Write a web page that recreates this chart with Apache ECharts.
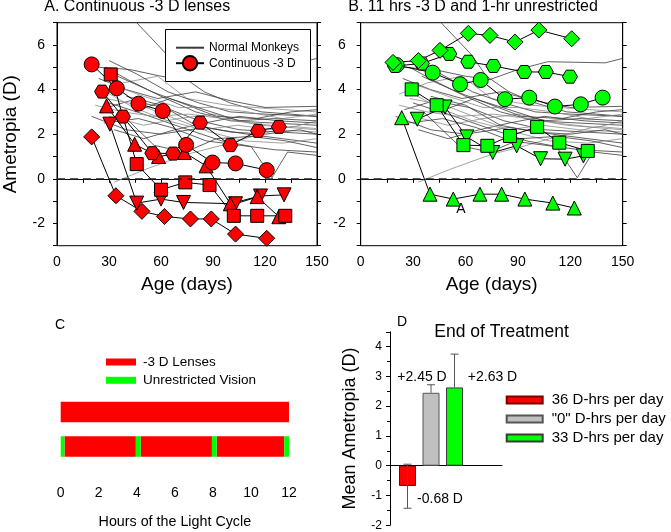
<!DOCTYPE html>
<html><head><meta charset="utf-8">
<script src="https://cdn.jsdelivr.net/npm/echarts@6/dist/echarts.min.js"></script>
<style>html,body{margin:0;padding:0;background:#fff}#c{width:671px;height:532px}</style>
</head><body><div id="c"></div>
<script>
// ---------- DATA ----------
// Normal monkeys: [age (days), ametropia (D)]
const nm01 = [[38,8.0],[46,7.0],[63,5.6],[72,4.6],[85,3.9],[100,3.4],[118,3.0],[135,2.9],[150,2.8]];
const nm02 = [[33,-0.15],[52,0.45],[75,1.1],[95,1.5],[115,1.95],[135,2.35],[150,2.25]];
const nm03 = [[30,3.4],[50,2.9],[72,2.3],[95,1.7],[112,1.45],[124,0.05],[133,1.2],[150,1.05]];
const nm04 = [[24,5.0],[42,4.9],[60,4.6],[74,4.45],[90,4.9],[107,5.25],[140,5.2],[150,5.4]];
const nm05 = [[22,3.8],[38,4.3],[58,4.6],[75,3.6],[98,3.3],[122,3.15],[150,3.0]];
const nm06 = [[28,5.0],[42,4.4],[60,3.7],[80,3.0],[100,2.6],[125,2.5],[150,2.4]];
const nm07 = [[25,3.1],[42,3.5],[62,3.2],[82,2.6],[105,2.2],[128,2.1],[150,2.0]];
const nm08 = [[30,2.8],[50,2.4],[70,2.7],[90,2.9],[112,2.5],[135,2.3],[150,2.6]];
const nm09 = [[20,2.8],[40,2.2],[60,2.0],[85,2.3],[110,2.0],[130,1.8],[150,1.6]];
const nm10 = [[35,4.6],[55,3.9],[72,3.4],[92,2.8],[115,2.7],[135,3.0],[150,3.1]];
const nm11 = [[28,3.6],[48,3.3],[68,2.7],[88,2.1],[108,1.7],[130,1.6],[150,1.8]];
const nm12 = [[24,4.5],[40,4.0],[58,3.6],[80,3.9],[100,3.5],[120,3.2],[150,3.25]];
const nm13 = [[33,2.2],[50,1.8],[68,2.2],[85,2.5],[105,2.8],[128,2.6],[150,2.5]];
const nm14 = [[26,4.0],[44,3.2],[64,2.6],[84,2.2],[104,2.4],[125,2.2],[150,2.1]];
const nm15 = [[30,5.3],[46,4.7],[64,3.9],[82,3.4],[100,3.0],[120,2.9],[150,2.8]];
const nm16 = [[36,3.0],[56,1.5],[74,1.2],[92,1.8],[112,1.9],[132,1.7],[150,1.4]];
const nm17 = [[22,3.3],[38,3.0],[56,2.8],[76,2.9],[96,2.7],[118,2.4],[150,2.2]];
const nm18 = [[40,3.7],[60,3.3],[80,2.4],[100,2.1],[120,2.0],[140,2.2],[150,2.0]];
const nm19 = [[27,2.5],[47,2.7],[66,2.3],[86,1.7],[106,1.5],[126,1.3],[150,1.2]];
const nm20 = [[32,4.2],[50,3.7],[70,3.2],[90,3.2],[110,3.0],[130,2.7],[150,2.9]];
const nm21 = [[45,3.0],[65,3.6],[85,3.1],[105,2.6],[125,2.7],[150,2.6]];
const normalMonkeys = [nm01,nm02,nm03,nm04,nm05,nm06,nm07,nm08,nm09,nm10,nm11,nm12,nm13,nm14,nm15,nm16,nm17,nm18,nm19,nm20,nm21];

// Panel A: continuous -3 D lenses
const contCircle   = [[20,5.13],[34.5,4.06],[47,3.37],[61,3.04],[74.5,1.52],[89.7,0.73],[103,0.69],[121,0.39]];
const contSquare   = [[31,4.68],[46,0.66],[60,-0.49],[74,-0.16],[88,-0.28],[102,-1.66],[115.5,-1.66],[131.7,-1.66]];
const contHexagon  = [[26,3.91],[38,2.79],[55,1.15],[67,1.13],[82.6,2.52],[100,1.51],[116,2.15],[128,2.33]];
const contTriUp    = [[28.6,3.27],[44.8,1.55],[58.6,1.0],[73.5,1.18],[86,0.58],[100,-1.12],[115.5,-0.8],[128,-1.7]];
const contTriDown  = [[30.5,2.45],[46,-1.09],[60,-0.91],[73,-1.06],[103,-1.12],[117.4,-0.77],[131,-0.72]];
const contDiamond  = [[20,1.88],[34,-0.76],[49,-1.46],[62,-1.69],[77,-1.8],[89,-1.8],[103,-2.48],[121,-2.67]];

// Panel B: 11 hrs -3 D and 1 hr unrestricted
const intDiamond = [[18.5,5.22],[33,5.3],[45.4,5.76],[61.6,6.52],[74,6.43],[88.3,6.13],[102,6.67],[120.8,6.28]];
const intHexagon = [[19.6,5.06],[35,5.17],[50.7,5.6],[61.6,5.25],[76,5.06],[93.7,4.79],[106,4.79],[119.8,4.58]];
const intCircle  = [[20.6,5.1],[41.2,4.76],[56.9,4.24],[68.7,4.43],[82.6,3.57],[96.5,3.64],[111.2,3.24],[126,3.34],[138.5,3.64]];
const intSquare  = [[29.2,4.01],[43.5,3.3],[58.8,1.51],[72.5,1.48],[85.5,1.92],[101,2.33],[113.7,1.62],[130,1.25]];
const intTriUp   = [[23.5,2.74],[39.7,-0.69],[53,-0.91],[68.3,-0.69],[80.7,-0.69],[94,-0.91],[110,-1.09],[122.3,-1.31]];
const intTriDown = [[32.4,2.67],[48.3,3.22],[60.7,1.88],[75.6,1.18],[89.3,1.48],[103,0.9],[117,0.88],[127.5,1.03]];

// Panel C: light cycle schedule [startHour, endHour, rowIndex]
const scheduleRows = ['Continuous -3 D', '11 hrs -3 D + 1 hr unrestricted'];
const lensPeriods = [[0,12,0],[0.2,3.95,1],[4.2,7.95,1],[8.2,11.75,1]];
const openPeriods = [[0,0.2,1],[3.95,4.2,1],[7.95,8.2,1],[11.75,12,1]];

// Panel D: end of treatment
const treatmentGroups = ['36 D-hrs per day', '"0" D-hrs per day', '33 D-hrs per day'];
const meanAmetropia = [-0.68, 2.45, 2.63];
const errLow  = [-1.43, 2.45, 2.63];
const errHigh = [0.05, 2.72, 3.75];

// ---------- CHART ----------
const FONT = '"Liberation Sans", Arial, sans-serif';
const RED = '#ff0000', GREEN = '#00ff00';
const HEX = 'path://M0,43.3 L25,0 L75,0 L100,43.3 L75,86.6 L25,86.6 Z';

const chart = echarts.init(document.getElementById('c'), null, {renderer: 'canvas'});

const ageGridTop = 22.7, ageGridH = 223;
const grids = [
  {left: 55, top: ageGridTop, width: 262, height: ageGridH, show: true, borderColor: '#000', borderWidth: 1},
  {left: 360.7, top: ageGridTop, width: 262, height: ageGridH, show: true, borderColor: '#000', borderWidth: 1},
  {left: 60.7, top: 394.75, width: 228.3, height: 69},
  {left: 390, top: 331.8, width: 112, height: 193.4}
];

function ageXAxis(gi, name) {
  return {type: 'value', gridIndex: gi, min: 0, max: 150, interval: 15,
    axisLine: {lineStyle: {color: '#000', width: 1}},
    axisTick: {length: 4, lineStyle: {color: '#000'}},
    axisLabel: {fontSize: 14, color: '#000', margin: 9, formatter: v => (v % 30 === 0 ? String(v) : '')},
    splitLine: {show: false},
    name: name, nameLocation: 'middle', nameGap: 30, nameTextStyle: {fontSize: 19, color: '#000'}};
}
function ametYAxis(gi, name, margin) {
  return {type: 'value', gridIndex: gi, min: -3, max: 7, interval: 1,
    axisLine: {show: true, lineStyle: {color: '#000'}},
    axisTick: {length: 4, lineStyle: {color: '#000'}},
    axisLabel: {fontSize: 14, color: '#000', margin: margin, formatter: v => (v % 2 === 0 ? String(v) : '')},
    splitLine: {show: false},
    name: name, nameLocation: 'middle', nameGap: 37, nameTextStyle: {fontSize: 19, color: '#000'}};
}
function rightYAxis(gi) {
  return {type: 'value', gridIndex: gi, position: 'right', min: -3, max: 7, interval: 1,
    axisLine: {show: true, lineStyle: {color: '#000'}},
    axisTick: {length: 4, lineStyle: {color: '#000'}},
    axisLabel: {show: false}, splitLine: {show: false}};
}

const xAxes = [
  ageXAxis(0, 'Age (days)'),
  ageXAxis(1, 'Age (days)'),
  {type: 'value', gridIndex: 2, min: 0, max: 12, interval: 2, offset: 13.5,
    axisLine: {lineStyle: {color: '#999', width: 1.5}},
    axisTick: {inside: true, length: 4, lineStyle: {color: '#999'}},
    axisLabel: {fontSize: 14, color: '#000', margin: 9},
    splitLine: {show: false},
    name: 'Hours of the Light Cycle', nameLocation: 'middle', nameGap: 38, nameTextStyle: {fontSize: 14.3, color: '#000'}},
  {type: 'value', gridIndex: 3, min: 0.255, max: 5.02,
    axisLine: {onZero: true, lineStyle: {color: '#000'}},
    axisTick: {show: false}, axisLabel: {show: false}, splitLine: {show: false}}
];
const yAxes = [
  ametYAxis(0, 'Ametropia (D)', 12),
  rightYAxis(0),
  ametYAxis(1, '', 15),
  rightYAxis(1),
  {type: 'category', gridIndex: 2, data: scheduleRows, inverse: true, show: false},
  {type: 'value', gridIndex: 3, min: -2, max: 4.5, interval: 1,
    axisLine: {show: true, lineStyle: {color: '#000'}},
    axisTick: {length: 4, lineStyle: {color: '#000'}},
    minorTick: {show: true, splitNumber: 2, length: 3, lineStyle: {color: '#000'}},
    axisLabel: {fontSize: 12, color: '#000', margin: 8, showMaxLabel: false},
    splitLine: {show: false},
    name: 'Mean Ametropia (D)', nameLocation: 'middle', nameGap: 31, nameTextStyle: {fontSize: 18, color: '#000'}}
];

const series = [];
const zeroLine = {silent: true, symbol: 'none', label: {show: false}, animation: false,
  lineStyle: {color: '#222', type: [8, 5], width: 1.5}, data: [{yAxis: 0}]};

function addNormals(gi) {
  normalMonkeys.forEach((d, i) => {
    const s = {type: 'line', name: 'Normal Monkeys', xAxisIndex: gi, yAxisIndex: gi * 2, data: d,
      symbol: 'none', silent: true, z: 1,
      lineStyle: {color: (i % 3 === 1) ? '#8a8a8a' : '#3a3a3a', width: 0.8},
      itemStyle: {color: 'rgba(0,0,0,0)', borderWidth: 0}};
    if (i === 0) s.markLine = zeroLine;
    series.push(s);
  });
}
function addMarks(gi, name, data, symbol, size, fill, rotate) {
  series.push({type: 'line', name: name, xAxisIndex: gi, yAxisIndex: gi * 2, data: data,
    symbol: symbol, symbolSize: size, symbolRotate: rotate || 0, symbolKeepAspect: true,
    showAllSymbol: true, z: 3,
    lineStyle: {color: '#000', width: 1},
    itemStyle: {color: fill, borderColor: '#000', borderWidth: 1, opacity: 1}});
}
addNormals(0);
addNormals(1);
addMarks(0, 'A diamond', contDiamond, 'diamond', 16, RED);
addMarks(0, 'A down', contTriDown, 'triangle', 14, RED, 180);
addMarks(0, 'A up', contTriUp, 'triangle', 14, RED);
addMarks(0, 'A square', contSquare, 'rect', 13, RED);
addMarks(0, 'A hexagon', contHexagon, HEX, 15, RED);
addMarks(0, 'Continuous -3 D', contCircle, 'circle', 15, RED);
addMarks(1, 'B up', intTriUp, 'triangle', 14, GREEN);
addMarks(1, 'B down', intTriDown, 'triangle', 14, GREEN, 180);
addMarks(1, 'B square', intSquare, 'rect', 13, GREEN);
addMarks(1, 'B circle', intCircle, 'circle', 15, GREEN);
addMarks(1, 'B hexagon', intHexagon, HEX, 15, GREEN);
addMarks(1, 'B diamond', intDiamond, 'diamond', 16, GREEN);

// Panel C
function periodRender(params, api) {
  const s = api.coord([api.value(0), api.value(2)]);
  const e = api.coord([api.value(1), api.value(2)]);
  const h = api.size([0, 1])[1] * 0.595;
  return {type: 'rect', shape: {x: s[0], y: s[1] - h / 2, width: e[0] - s[0], height: h},
    style: {fill: api.visual('color')}};
}
series.push({type: 'custom', name: '-3 D Lenses', xAxisIndex: 2, yAxisIndex: 4, data: lensPeriods,
  encode: {x: [0, 1], y: 2}, renderItem: periodRender, itemStyle: {color: RED}, silent: true});
series.push({type: 'custom', name: 'Unrestricted Vision', xAxisIndex: 2, yAxisIndex: 4, data: openPeriods,
  encode: {x: [0, 1], y: 2}, renderItem: periodRender, itemStyle: {color: GREEN}, silent: true});

// Panel D
const barFills = ['#ff0000', '#c0c0c0', '#00ff00'];
const barBorders = ['#7a0000', '#555', '#3a3a3a'];
const labelPos = [
  {position: 'bottom', offset: [32.5, 1]},
  {position: 'top', offset: [-9, -4]},
  {position: 'top', offset: [38, 1.5]}
];
treatmentGroups.forEach((g, i) => {
  series.push({type: 'bar', name: g, xAxisIndex: 3, yAxisIndex: 5, barWidth: 17, barGap: '-100%',
    data: [[i + 1, meanAmetropia[i]]], z: 2,
    itemStyle: {color: barFills[i], borderColor: barBorders[i], borderWidth: 1},
    label: Object.assign({show: true, fontSize: 14, color: '#000',
      formatter: p => (p.value[1] > 0 ? '+' : '') + p.value[1].toFixed(2) + ' D'}, labelPos[i])});
});
series.push({type: 'custom', name: 'SE', xAxisIndex: 3, yAxisIndex: 5, z: 4, silent: true,
  data: treatmentGroups.map((g, i) => [i + 1, errLow[i], errHigh[i], meanAmetropia[i]]),
  encode: {x: 0, y: [1, 2]},
  renderItem: (params, api) => {
    const lo = api.coord([api.value(0), api.value(1)]);
    const hi = api.coord([api.value(0), api.value(2)]);
    const mean = api.value(3);
    const st = {stroke: '#555', lineWidth: 1};
    const kids = [{type: 'line', shape: {x1: lo[0], y1: lo[1], x2: hi[0], y2: hi[1]}, style: st},
      {type: 'line', shape: {x1: hi[0] - 4, y1: hi[1], x2: hi[0] + 4, y2: hi[1]}, style: st}];
    if (api.value(1) < mean) kids.push({type: 'line', shape: {x1: lo[0] - 4, y1: lo[1], x2: lo[0] + 4, y2: lo[1]}, style: st});
    return {type: 'group', children: kids};
  }});

const txt = (t, x, y, size, align) => ({type: 'text', x: x, y: y, silent: true,
  style: {text: t, font: size + 'px ' + FONT, fill: '#000', textAlign: align || 'left', textVerticalAlign: 'middle'}});

const legendA = (name, top) => ({data: [name], left: 175, top: top, orient: 'vertical', z: 20,
  itemWidth: 28, itemHeight: 18, padding: 0, selectedMode: false,
  textStyle: {fontSize: 12, color: '#000'}});

chart.setOption({
  animation: false,
  textStyle: {fontFamily: FONT},
  grid: grids,
  xAxis: xAxes,
  yAxis: yAxes,
  legend: [
    legendA('Normal Monkeys', 40.5),
    legendA('Continuous -3 D', 55),
    {data: ['-3 D Lenses', 'Unrestricted Vision'], left: 106, top: 354, orient: 'vertical', icon: 'rect',
      itemWidth: 30, itemHeight: 7, itemGap: 2.3, padding: 0, selectedMode: false,
      textStyle: {fontSize: 13.5, color: '#000', lineHeight: 16, padding: [0, 0, 0, 2]}},
    {data: treatmentGroups, left: 505.7, top: 391.5, orient: 'vertical', icon: 'rect',
      itemWidth: 36, itemHeight: 7, itemGap: 2, padding: 0, selectedMode: false,
      textStyle: {fontSize: 15, color: '#000', lineHeight: 17, padding: [0, 0, 0, 4]}}
  ],
  graphic: [
    {type: 'rect', silent: true, z: 5, shape: {x: 165.5, y: 29.5, width: 145, height: 52},
      style: {fill: '#fff', stroke: '#000', lineWidth: 1}},
    txt('A. Continuous -3 D lenses', 44.3, 7, 16),
    txt('B. 11 hrs -3 D and 1-hr unrestricted', 348.3, 7, 16),
    txt('A', 461, 209.5, 14, 'center'),
    txt('C', 55, 325, 14),
    txt('D', 397, 321.7, 14),
    txt('End of Treatment', 501.5, 332.5, 17.5, 'center')
  ],
  series: series
});
</script></body></html>
